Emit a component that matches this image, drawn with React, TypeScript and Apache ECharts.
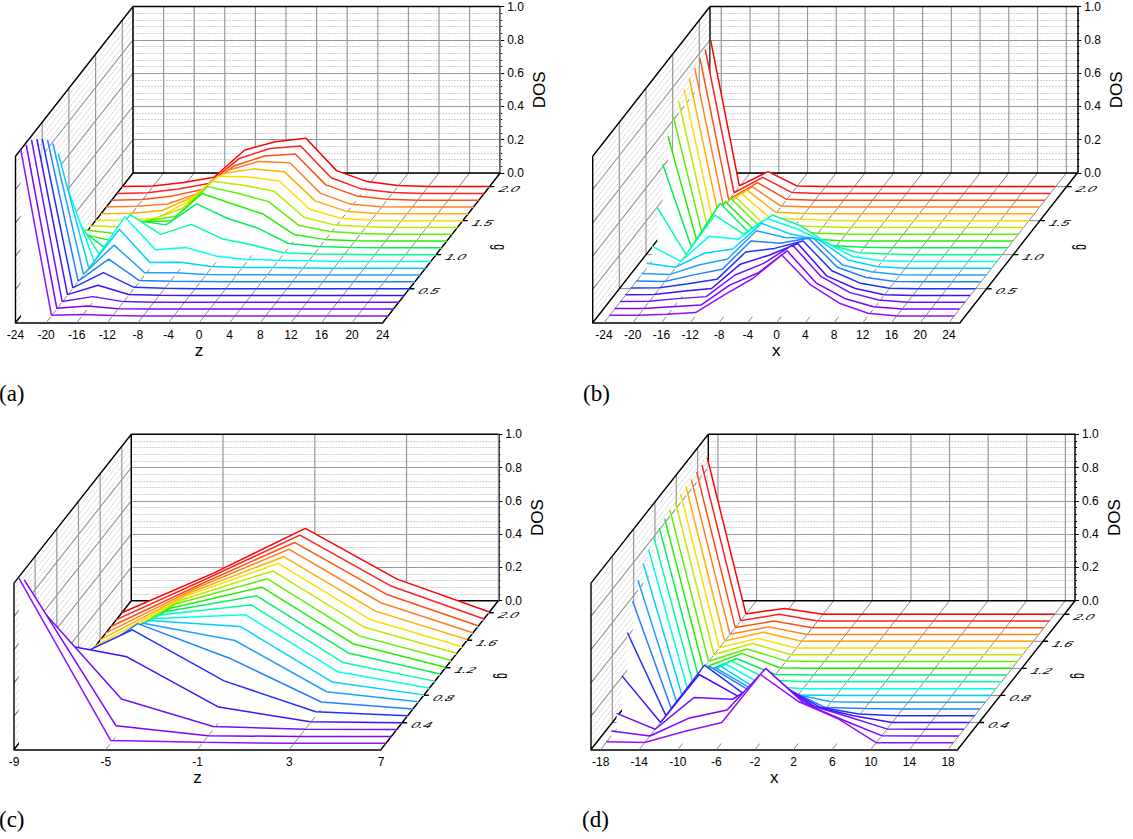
import React, { useEffect, useRef } from "react";
import * as echarts from "echarts";

const gValues = [0.1,0.2,0.3,0.4,0.5,0.6,0.7,0.8,0.9,1.0,1.1,1.2,1.3,1.4,1.5,1.6,1.7,1.8,1.9,2.0];
const lineColors = ["#9010ff","#8000ff","#7010ff","#4010ff","#2030ff","#2080ff","#20a0ff","#00d0ff","#00ffe8","#00ffa0","#00f060","#20f000","#60f000","#c0e800","#ffdc00","#ffb000","#ff8020","#ff5010","#ff2020","#ff0000"];
const dosTicks = [0,0.2,0.4,0.6,0.8,1];

const xA = [-24,-20,-16,-12,-8,-4,0,4,8,12,16,20,24];
const dosA = [
[.996,.004,.008,.002,0,0,0,0,0,0,0,0,0],
[.986,.005,.018,.002,0,0,0,0,0,0,0,0,0],
[.976,.005,.034,.004,0,0,0,0,0,0,0,0,0],
[.94,.005,.062,.006,.002,0,0,0,0,0,0,0,0],
[.9,.005,.096,.008,.002,0,0,0,0,0,0,0,0],
[.853,.005,.136,.008,.004,.002,0,0,0,0,0,0,0],
[.79,.005,.18,.014,.014,.004,.002,.002,0,0,0,0,0],
[.69,0,.234,.034,.036,.01,.004,.004,.002,0,0,0,0],
[.505,0,.268,.07,.084,.032,.012,.008,.004,0,0,0,0],
[.29,0,.24,.122,.182,.096,.058,.012,.004,.002,0,0,0],
[.14,0,.164,.138,.264,.178,.118,.026,.008,.002,0,0,0],
[.046,.004,.116,.122,.286,.222,.162,.04,.01,.002,0,0,0],
[.026,.004,.08,.11,.286,.246,.196,.052,.016,.004,0,0,0],
[.008,.004,.048,.114,.278,.254,.218,.06,.014,.004,0,0,0],
[.002,.004,.014,.114,.266,.262,.238,.068,.014,.002,0,0,0],
[0,.004,.02,.102,.242,.27,.252,.078,.016,.002,0,0,0],
[0,.004,.018,.082,.222,.274,.266,.082,.016,.002,0,0,0],
[0,.004,.026,.066,.206,.266,.278,.092,.026,.006,0,0,0],
[0,.004,.026,.06,.21,.27,.285,.094,.026,.006,0,0,0],
[0,.004,.024,.056,.22,.27,.29,.096,.03,.006,0,0,0],
];

const xB = [-24,-20,-16,-12,-8,-4,0,4,8,12,16,20,24];
const dosB = [
[.004,.004,.01,.02,.126,.226,.366,.186,.076,.016,0,0,0],
[.004,.004,.014,.024,.144,.218,.35,.158,.064,.014,0,0,0],
[.004,.006,.022,.034,.164,.234,.344,.154,.058,.014,0,0,0],
[.004,.006,.026,.042,.188,.242,.312,.118,.042,.004,0,0,0],
[.004,.006,.03,.056,.22,.242,.286,.108,.032,.002,0,0,0],
[.005,.002,.042,.076,.246,.232,.262,.088,.026,.002,0,0,0],
[.01,.004,.06,.096,.266,.226,.22,.06,.02,.002,0,0,0],
[.03,.006,.09,.116,.27,.206,.17,.05,.01,0,0,0,0],
[.092,0,.152,.134,.258,.198,.118,.028,.004,0,0,0,0],
[.282,0,.238,.124,.238,.172,.058,.012,.004,0,0,0,0],
[.504,.004,.268,.092,.138,.058,.012,.004,0,0,0,0,0],
[.63,.004,.236,.066,.056,.012,.002,0,0,0,0,0,0],
[.706,.004,.216,.046,.022,.006,.002,0,0,0,0,0,0],
[.758,.004,.18,.014,.008,.004,0,0,0,0,0,0,0],
[.79,.004,.164,.014,.008,.002,0,0,0,0,0,0,0],
[.814,.004,.144,.01,.002,0,0,0,0,0,0,0,0],
[.836,.004,.122,.006,0,0,0,0,0,0,0,0,0],
[.852,.004,.106,.006,0,0,0,0,0,0,0,0,0],
[.864,.004,.096,.006,0,0,0,0,0,0,0,0,0],
[.88,.004,.09,.004,0,0,0,0,0,0,0,0,0],
];

const xC = [-9,-5,-1,3,7];
const dosC = [
[.993,.017,.006,0,0],
[.941,.064,.004,0,0],
[.8,.184,.018,.002,0],
[.5,.396,.094,.006,0],
[.257,.517,.21,.024,0],
[.134,.513,.305,.042,0],
[.05,.474,.37,.062,.002],
[.02,.449,.413,.08,.002],
[.005,.42,.442,.1,.002],
[.004,.4,.46,.114,.002],
[.004,.378,.473,.13,.003],
[.004,.357,.484,.142,.003],
[.004,.342,.493,.15,.003],
[.004,.324,.499,.16,.004],
[.004,.308,.503,.166,.004],
[.002,.29,.502,.175,.004],
[.001,.275,.505,.184,.004],
[0,.26,.505,.194,.004],
[0,.25,.508,.2,.005],
[0,.238,.507,.202,.006],
];

const xD = [-18,-14,-10,-6,-2,2,6,10,14,18];
const dosD = [
[.006,.002,.066,.122,.41,.246,.146,0,0,0],
[.03,0,.106,.156,.406,.196,.096,.002,0,0],
[.095,0,.19,.18,.32,.145,.075,.002,0,0],
[.28,0,.288,.158,.25,.094,.04,0,0,0],
[.5,0,.304,.134,.18,.05,.01,0,0,0],
[.647,.004,.254,.114,.12,.008,.002,0,0,0],
[.732,.002,.208,.072,.05,.002,0,0,0,0],
[.792,.002,.176,.03,.002,0,0,0,0,0],
[.835,.002,.148,.016,0,0,0,0,0,0],
[.865,.002,.126,.01,0,0,0,0,0,0],
[.885,.002,.1,.004,0,0,0,0,0,0],
[.9,.002,.09,.002,0,0,0,0,0,0],
[.91,.002,.076,.004,0,0,0,0,0,0],
[.92,.002,.068,0,0,0,0,0,0,0],
[.925,.002,.058,0,0,0,0,0,0,0],
[.93,.002,.054,0,0,0,0,0,0,0],
[.932,.002,.046,0,0,0,0,0,0,0],
[.935,.002,.04,0,0,0,0,0,0,0],
[.937,.002,.04,0,0,0,0,0,0,0],
[.94,.002,.035,0,0,0,0,0,0,0],
];

const gTicksAB = [0.5,1.0,1.5,2.0];
const gTicksCD = [0.4,0.8,1.2,1.6,2.0];
const SANS = "'Liberation Sans', Arial, sans-serif";

type Panel = { tag:string; tagX:number; tagY:number; name:string; xs:number[]; dos:number[][]; xMin:number; xMax:number; gTicks:number[]; ox:number; oy:number; W:number; Dx:number; Dy:number; H:number; g0:number; gr:number; gTitleG:number; gTitleDx:number };

const panels: Panel[] = [
  { tag:"(a)", tagX:-1, tagY:393, name:"z", xs:xA, dos:dosA, xMin:-24, xMax:24, gTicks:gTicksAB, ox:15.5, oy:322.7, W:367.2, Dx:117.5, Dy:149.7, H:166.5, g0:0, gr:2.2, gTitleG:1.11, gTitleDx:58 },
  { tag:"(b)", tagX:583, tagY:393, name:"x", xs:xB, dos:dosB, xMin:-25.57, xMax:25.53, gTicks:gTicksAB, ox:592.7, oy:322.7, W:367.3, Dx:117.3, Dy:149.7, H:166.5, g0:0, gr:2.2, gTitleG:1.11, gTitleDx:63 },
  { tag:"(c)", tagX:-1, tagY:819, name:"z", xs:xC, dos:dosC, xMin:-9, xMax:7, gTicks:gTicksCD, ox:14, oy:749.5, W:367, Dx:117.3, Dy:148.8, H:166.4, g0:0.01, gr:2.165, gTitleG:1.08, gTitleDx:64 },
  { tag:"(d)", tagX:582, tagY:819, name:"x", xs:xD, dos:dosD, xMin:-19, xMax:19, gTicks:gTicksCD, ox:591, oy:749.5, W:366.7, Dx:117.3, Dy:148.8, H:166.4, g0:0, gr:2.2, gTitleG:1.09, gTitleDx:64.5 },
];

function buildOption() {
  const grid:any[] = [], xAxis:any[] = [], yAxis:any[] = [], series:any[] = [], graphic:any[] = [];
  panels.forEach((p, i) => {
    const pxPerX = p.W / (p.xMax - p.xMin);
    const dxU = p.Dx / pxPerX;
    const dyU = p.Dy / p.H;
    const tOf = (g:number) => (g - p.g0) / p.gr;
    const proj = (x:number, t:number, dos:number) => [x + t * dxU, dos + t * dyU];
    const ticksAll = p.xs;

    // back wall grid with the true DOS axis
    grid.push({ left: p.ox + p.Dx, top: p.oy - p.Dy - p.H, width: p.W, height: p.H, show:false });
    xAxis.push({ gridIndex: 3*i, type:"value", min:0, max:1, show:false });
    yAxis.push({
      gridIndex: 3*i, type:"value", min:0, max:1, interval:0.2, position:"right",
      axisLine:{ show:true, onZero:false, lineStyle:{ color:"#000", width:1.5 } },
      axisTick:{ show:true, length:4, lineStyle:{ color:"#000", width:1 } },
      minorTick:{ show:true, splitNumber:5, length:2, lineStyle:{ color:"#000", width:1 } },
      axisLabel:{ show:true, formatter:(v:number)=>v.toFixed(1), fontFamily:SANS, fontSize:12, color:"#000", margin:7 },
      splitLine:{ show:true, lineStyle:{ color:"#999", width:1.2 } },
      minorSplitLine:{ show:true, lineStyle:{ color:"#d0d0d0", width:1, type:[2,1] } },
      name:"DOS", nameLocation:"middle", nameRotate:90, nameGap:31,
      nameTextStyle:{ fontFamily:SANS, fontSize:17, color:"#000" },
    });

    // front axis grid with the x (or z) scale
    grid.push({ left:p.ox, top:p.oy-10, width:p.W, height:10, show:false });
    xAxis.push({
      gridIndex:3*i+1, type:"value", min:p.xMin, max:p.xMax, position:"bottom",
      axisLine:{ show:true, onZero:false, lineStyle:{ color:"#000", width:1.5 } },
      axisTick:{ show:false }, splitLine:{ show:false },
      axisLabel:{ show:true, customValues:ticksAll, formatter:(v:number)=>String(v), fontFamily:SANS, fontSize:12, color:"#000", margin:6, hideOverlap:false },
      name:p.name, nameLocation:"middle", nameGap:19,
      nameTextStyle:{ fontFamily:SANS, fontSize:17, color:"#000" },
    });
    yAxis.push({ gridIndex:3*i+1, type:"value", min:0, max:1, show:false });

    // oblique projection grid for walls, floor and curves
    grid.push({ left:p.ox, top:p.oy-p.Dy-p.H, width:p.W+p.Dx, height:p.Dy+p.H, show:false });
    xAxis.push({ gridIndex:3*i+2, type:"value", min:p.xMin, max:p.xMax+dxU, show:false });
    yAxis.push({ gridIndex:3*i+2, type:"value", min:0, max:1+dyU, show:false });
    const idx = 3*i+2;

    const segSeries = (segs:number[][][], style:any, z:number) => {
      const data:any[] = [];
      segs.forEach(s => { s.forEach(pt => data.push(pt)); data.push([NaN,NaN]); });
      return { type:"line", xAxisIndex:idx, yAxisIndex:idx, data, showSymbol:false, symbol:"none", silent:true, clip:false, connectNulls:false, lineStyle:style, z, animation:false };
    };

    // left wall dashed minors
    const minors:number[][][] = [];
    for (let k = 1; k < 25; k++) { if (k % 5 !== 0) minors.push([proj(p.xMin,0,k*0.04), proj(p.xMin,1,k*0.04)]); }
    series.push(segSeries(minors, { color:"#d0d0d0", width:1, type:[2,1] }, 1));
    const greys:number[][][] = [];
    dosTicks.slice(1,5).forEach(d => greys.push([proj(p.xMin,0,d), proj(p.xMin,1,d)]));
    p.gTicks.forEach(g => greys.push([proj(p.xMin,tOf(g),0), proj(p.xMin,tOf(g),1)]));
    p.xs.forEach(x => greys.push([proj(x,1,0), proj(x,1,1)]));
    series.push(segSeries(greys, { color:"#999", width:1.2 }, 2));
    const floor:number[][][] = [];
    p.xs.forEach(x => floor.push([proj(x,0,0), proj(x,1,0)]));
    p.gTicks.forEach(g => floor.push([proj(p.xMin,tOf(g),0), proj(p.xMax,tOf(g),0)]));
    series.push(segSeries(floor, { color:"#888", width:1 }, 3));
    const stubs:number[][][] = [];
    dosTicks.slice(1,5).forEach(d => stubs.push([proj(p.xMin,0,d), proj(p.xMin,0.03,d)]));
    series.push(segSeries(stubs, { color:"#777", width:0.8 }, 3));
    const tickPx = 5 / pxPerX;
    const edges:number[][][] = [
      [proj(p.xMin,0,0), proj(p.xMin,1,0)],
      [proj(p.xMin,1,0), proj(p.xMax,1,0)],
      [proj(p.xMax,0,0), proj(p.xMax,1,0)],
      [proj(p.xMin,0,0), proj(p.xMin,0,1)],
      [proj(p.xMin,0,1), proj(p.xMin,1,1)],
      [proj(p.xMin,1,0), proj(p.xMin,1,1)],
      [proj(p.xMin,1,1), proj(p.xMax,1,1)],
    ];
    p.gTicks.forEach(g => { const a = proj(p.xMax,tOf(g),0); edges.push([a, [a[0]+tickPx, a[1]]]); });
    series.push(segSeries(edges, { color:"#000", width:1.4 }, 4));

    // curves, back to front, each with a white fill down to just under its own baseline
    for (let k = gValues.length - 1; k >= 0; k--) {
      const t = tOf(gValues[k]);
      const base = t * dyU - 0.005;
      series.push({
        type:"line", xAxisIndex:idx, yAxisIndex:idx, showSymbol:false, symbol:"none", silent:true, clip:false,
        data: p.xs.map((x, j) => proj(x, t, p.dos[k][j])),
        lineStyle:{ color:lineColors[k], width:1.5 },
        areaStyle:{ color:"#fff", opacity:1, origin:base },
        z: 10 + (gValues.length - k),
      });
    }

    // oblique g tick labels and title
    const gLabelData = p.gTicks.map(g => { const a = proj(p.xMax,tOf(g),0); return [a[0], a[1], g]; });
    series.push({
      type:"custom", xAxisIndex:idx, yAxisIndex:idx, silent:true, clip:false, z:60, data:gLabelData,
      renderItem:(_:any, api:any) => {
        const c = api.coord([api.value(0), api.value(1)]);
        return { type:"text", x:c[0]+20, y:c[1]+2.5, scaleX:1.2, scaleY:0.72, skewX:-0.7,
          style:{ text:api.value(2).toFixed(1), fontFamily:SANS, fontSize:12, fill:"#000", align:"center", verticalAlign:"middle" } };
      },
    });
    const tg = proj(p.xMax,tOf(p.gTitleG),0);
    series.push({
      type:"custom", xAxisIndex:idx, yAxisIndex:idx, silent:true, clip:false, z:60, data:[[tg[0],tg[1]]],
      renderItem:(_:any, api:any) => {
        const c = api.coord([api.value(0), api.value(1)]);
        return { type:"text", x:c[0]+p.gTitleDx, y:c[1], rotation:-Math.PI/2, scaleX:0.65, scaleY:1.1,
          style:{ text:"g", fontFamily:SANS, fontSize:16, fill:"#000", align:"center", verticalAlign:"middle" } };
      },
    });

    graphic.push({ type:"text", x:p.tagX, y:p.tagY, silent:true,
      style:{ text:p.tag, fontFamily:"'Liberation Serif', serif", fontSize:23, fill:"#000", verticalAlign:"middle", align:"left" } });
  });
  return { animation:false, grid, xAxis, yAxis, series, graphic, tooltip:{ show:false } };
}

export default function App() {
  const ref = useRef<HTMLDivElement>(null);
  useEffect(() => {
    document.body.style.margin = "0";
    const chart = echarts.init(ref.current as HTMLDivElement, undefined, { renderer:"svg" });
    chart.setOption(buildOption() as any);
    return () => chart.dispose();
  }, []);
  return <div ref={ref} style={{ width:1133, height:839, background:"#fff" }} />;
}
